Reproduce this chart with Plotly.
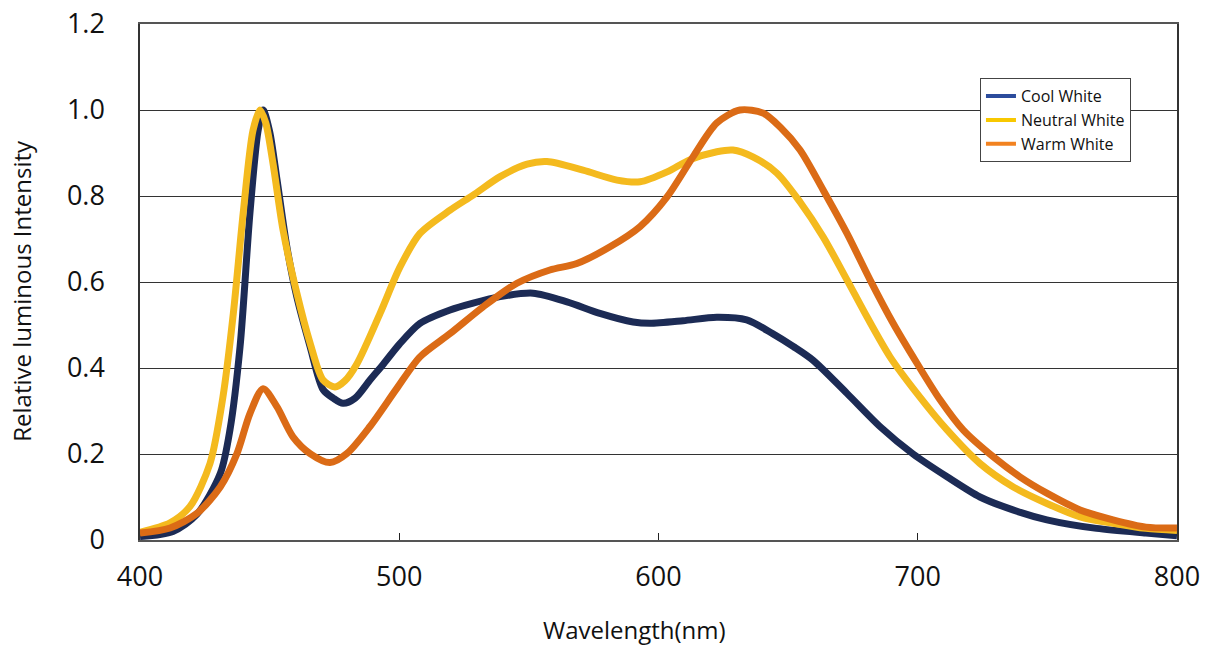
import plotly.graph_objects as go

# ---- data ----
cool_x = [400, 412.7, 422, 431, 434.7, 438.6, 442.4, 445.5, 447.5, 450, 452.8, 456.7, 460.5, 465.6, 470.6, 474.5,
          478.3, 483, 488.7, 494, 500, 508, 519.6, 528.5, 538.9, 551.6, 564.7, 577.4, 590.2, 596.7, 609.5,
          622.5, 634, 644, 652, 659.6, 672.7, 685.4, 698.2, 711.3, 724, 736.7, 749.8, 769, 788, 800]
cool_y = [0.008, 0.02, 0.06, 0.155, 0.256, 0.45, 0.76, 0.95, 1.0, 0.95, 0.84, 0.68, 0.565, 0.45, 0.35, 0.33,
          0.318, 0.33, 0.372, 0.41, 0.455, 0.504, 0.535, 0.551, 0.566, 0.574, 0.554, 0.527, 0.507, 0.504, 0.51,
          0.518, 0.512, 0.48, 0.45, 0.418, 0.341, 0.264, 0.2, 0.147, 0.1, 0.07, 0.047, 0.027, 0.016, 0.01]

neutral_x = [400, 411.6, 419.3, 427, 432, 436, 439.8, 443.6, 446.3, 448.5, 451.3, 455.2, 460.5, 465.6, 470.6,
             475.2, 479, 483.7, 492.6, 500.3, 508, 519.6, 528.5, 538.9, 549.3, 557, 570.9, 584, 592.9, 603.3,
             612, 622.5, 628.7, 636.4, 645.7, 654.6, 663.5, 672.7, 680.4, 689.3, 699.7, 711.3, 724, 736.7,
             749.8, 762.6, 775.3, 788, 800]
neutral_y = [0.018, 0.04, 0.078, 0.178, 0.333, 0.527, 0.76, 0.953, 1.0, 0.97, 0.876, 0.72, 0.574, 0.458, 0.372,
             0.356, 0.37, 0.41, 0.527, 0.635, 0.713, 0.767, 0.802, 0.845, 0.874, 0.88, 0.86, 0.837, 0.833, 0.856,
             0.884, 0.903, 0.907, 0.891, 0.853, 0.786, 0.705, 0.605, 0.519, 0.426, 0.341, 0.256, 0.178, 0.124,
             0.085, 0.054, 0.039, 0.027, 0.022]

warm_x = [400, 411.6, 422, 431, 437.4, 442.4, 447.5, 452.8, 459, 465.6, 473.3, 479.8, 488.7, 499, 508,
          519.6, 532.3, 545.4, 558.1, 568.5, 581.3, 592.9, 603.3, 613.3, 622.5, 631.4, 640.3, 647, 654.6,
          663.5, 672.7, 681.6, 690.5, 699.7, 708.6, 717.5, 729, 739.4, 749.8, 762.6, 775.3, 788, 800]
warm_y = [0.016, 0.028, 0.062, 0.124, 0.201, 0.294, 0.352, 0.31, 0.24, 0.201, 0.18, 0.201, 0.264, 0.352, 0.426,
          0.48, 0.542, 0.597, 0.628, 0.643, 0.682, 0.729, 0.798, 0.891, 0.97, 1.0, 0.993, 0.96, 0.907,
          0.814, 0.713, 0.605, 0.504, 0.411, 0.326, 0.256, 0.194, 0.147, 0.109, 0.07, 0.047, 0.03, 0.028]

series_names = ["Cool White", "Neutral White", "Warm White"]
line_colors = ["#1C2B55", "#F4BA1E", "#DB6B16"]
legend_colors = ["#2C4C9C", "#F8C800", "#F28220"]

x_ticks = [400, 500, 600, 700, 800]
y_ticks = [0, 0.2, 0.4, 0.6, 0.8, 1.0, 1.2]
y_tick_text = ["0", "0.2", "0.4", "0.6", "0.8", "1.0", "1.2"]
x_title = "Wavelength(nm)"
y_title = "Relative luminous Intensity"

FONT = "Open Sans, Lato, sans-serif"

fig = go.Figure()
for name, xs, ys, col in zip(series_names, [cool_x, neutral_x, warm_x],
                             [cool_y, neutral_y, warm_y], line_colors):
    fig.add_trace(go.Scatter(x=xs, y=ys, mode="lines", name=name, showlegend=False,
                             line=dict(color=col, width=7, shape="spline", smoothing=0.8)))
for name, col in zip(series_names, legend_colors):
    fig.add_trace(go.Scatter(x=[None], y=[None], mode="lines", name=name,
                             line=dict(color=col, width=4)))

fig.update_layout(
    width=1208, height=646,
    margin=dict(l=140, r=31, t=24, b=106),
    paper_bgcolor="white", plot_bgcolor="white",
    font=dict(family=FONT, color="#111"),
    legend=dict(x=0.81, y=0.895, xanchor="left", yanchor="top",
                bgcolor="white", bordercolor="#444", borderwidth=1,
                font=dict(size=16, color="#111"), itemwidth=30,
                tracegroupgap=0),
    annotations=[
        dict(text=x_title, xref="paper", yref="paper", x=0.477, y=0, yshift=-89,
             xanchor="center", yanchor="middle", showarrow=False,
             font=dict(size=24, family=FONT, color="#111")),
        dict(text=y_title, xref="paper", yref="paper", x=0, y=0.483, xshift=-118,
             xanchor="center", yanchor="middle", textangle=-90, showarrow=False,
             font=dict(size=24, family=FONT, color="#111")),
    ],
)
fig.update_xaxes(range=[400, 800], tickvals=x_ticks, showgrid=False, automargin=False,
                 showline=True, linecolor="#555", linewidth=1.5, mirror=True,
                 ticks="inside", ticklen=7, tickcolor="#222", ticklabelstandoff=12,
                 ticklabeloverflow="allow",
                 tickfont=dict(size=27, family=FONT), zeroline=False)
fig.update_yaxes(range=[0, 1.2], tickvals=y_ticks, ticktext=y_tick_text, automargin=False,
                 showgrid=True, gridcolor="#333", gridwidth=1,
                 showline=True, linecolor="#333", linewidth=1.5, mirror=True,
                 ticks="outside", ticklen=28, tickcolor="rgba(0,0,0,0)",
                 ticklabeloverflow="allow",
                 tickfont=dict(size=27, family=FONT), zeroline=False)

fig.write_html("out.html", config={"displayModeBar": False},
               post_script="document.body.style.margin='0';")
